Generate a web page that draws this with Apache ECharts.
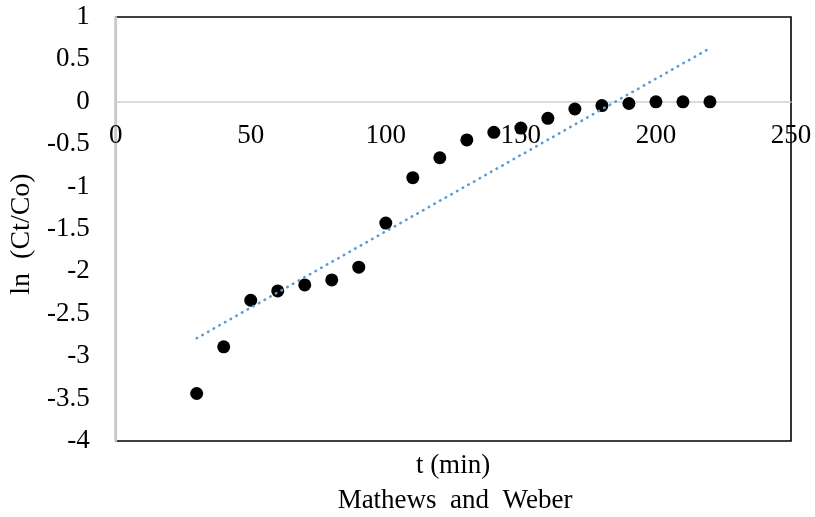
<!DOCTYPE html>
<html>
<head>
<meta charset="utf-8">
<script src="https://cdn.jsdelivr.net/npm/echarts@6/dist/echarts.min.js"></script>
<style>
  html, body { margin: 0; padding: 0; background: #ffffff; }
  #chart { width: 815px; height: 517px; }
</style>
</head>
<body>
<div id="chart"></div>
<script>
// Sampling times (min)
const times = [30, 40, 50, 60, 70, 80, 90, 100, 110, 120, 130, 140, 150, 160, 170, 180, 190, 200, 210, 220];
// ln(Ct/Co) at each sampling time
const lnRatio = [-3.44, -2.89, -2.34, -2.23, -2.16, -2.10, -1.95, -1.43, -0.895, -0.66, -0.45, -0.36, -0.31, -0.195, -0.085, -0.045, -0.02, 0, 0, 0];
// Axis tick values
const xTicks = [0, 50, 100, 150, 200, 250];
const yTicks = [-4, -3.5, -3, -2.5, -2, -1.5, -1, -0.5, 0, 0.5, 1];

// Least-squares linear trendline over the measured points
function linearFit(xs, ys) {
  const n = xs.length;
  const mx = xs.reduce((a, b) => a + b, 0) / n;
  const my = ys.reduce((a, b) => a + b, 0) / n;
  let sxy = 0, sxx = 0;
  for (let i = 0; i < n; i++) {
    sxy += (xs[i] - mx) * (ys[i] - my);
    sxx += (xs[i] - mx) * (xs[i] - mx);
  }
  const slope = sxy / sxx;
  return { slope, intercept: my - slope * mx };
}
const fit = linearFit(times, lnRatio);
const tFirst = times[0], tLast = times[times.length - 1];
const trend = [[tFirst, fit.intercept + fit.slope * tFirst], [tLast, fit.intercept + fit.slope * tLast]];

const FONT = '"Liberation Serif", "Times New Roman", serif';
const textStyle = { fontFamily: FONT, fontSize: 27, color: '#000' };

const W = 815, H = 517;
const grid = { left: 115, right: 24, top: 17, bottom: 76 };
const plotCenterX = grid.left + (W - grid.left - grid.right) / 2;
const plotH = H - grid.top - grid.bottom;
const yMin = yTicks[0], yMax = yTicks[yTicks.length - 1];
// The time axis crosses the value axis at ln(Ct/Co) = 0
const zeroLift = plotH * (0 - yMin) / (yMax - yMin);

const chart = echarts.init(document.getElementById('chart'), null, { renderer: 'canvas' });
chart.setOption({
  animation: false,
  backgroundColor: '#ffffff',
  grid: Object.assign({
    show: true, borderColor: '#000000', borderWidth: 1.6, backgroundColor: 'transparent'
  }, grid),
  xAxis: {
    type: 'value', position: 'bottom', offset: -zeroLift,
    min: xTicks[0], max: xTicks[xTicks.length - 1], interval: xTicks[1] - xTicks[0],
    axisLine: { onZero: false, lineStyle: { color: '#d0d0d0', width: 1.5 } },
    axisTick: { show: false },
    splitLine: { show: false },
    axisLabel: Object.assign({ margin: 21 }, textStyle)
  },
  yAxis: {
    type: 'value',
    min: yMin, max: yMax, interval: yTicks[1] - yTicks[0],
    axisLine: { show: true, onZero: false, lineStyle: { color: '#c8c8c8', width: 2.2 } },
    axisTick: { show: false },
    splitLine: { show: false },
    axisLabel: Object.assign({ margin: 26 }, textStyle),
    name: 'ln  (Ct/Co)', nameLocation: 'middle', nameGap: 79,
    nameTextStyle: Object.assign({}, textStyle, { fontSize: 28, padding: [0, 10, 0, 0] })
  },
  graphic: [
    {
      type: 'text', x: plotCenterX, y: 466,
      style: { text: 't (min)', font: '27px ' + FONT, fill: '#000', align: 'center', verticalAlign: 'middle' }
    },
    {
      type: 'text', x: plotCenterX + 2, y: 501,
      style: { text: 'Mathews  and  Weber', font: '27px ' + FONT, fill: '#000', align: 'center', verticalAlign: 'middle' }
    }
  ],
  series: [
    {
      type: 'scatter',
      data: times.map((t, i) => [t, lnRatio[i]]),
      symbol: 'circle', symbolSize: 13,
      itemStyle: { color: '#000000', opacity: 1 },
      z: 2
    },
    {
      type: 'line',
      data: trend, showSymbol: false, symbol: 'none',
      lineStyle: { color: '#5b9bd5', width: 2.6, type: [0.5, 6], cap: 'round' },
      z: 3
    }
  ]
});
</script>
</body>
</html>
